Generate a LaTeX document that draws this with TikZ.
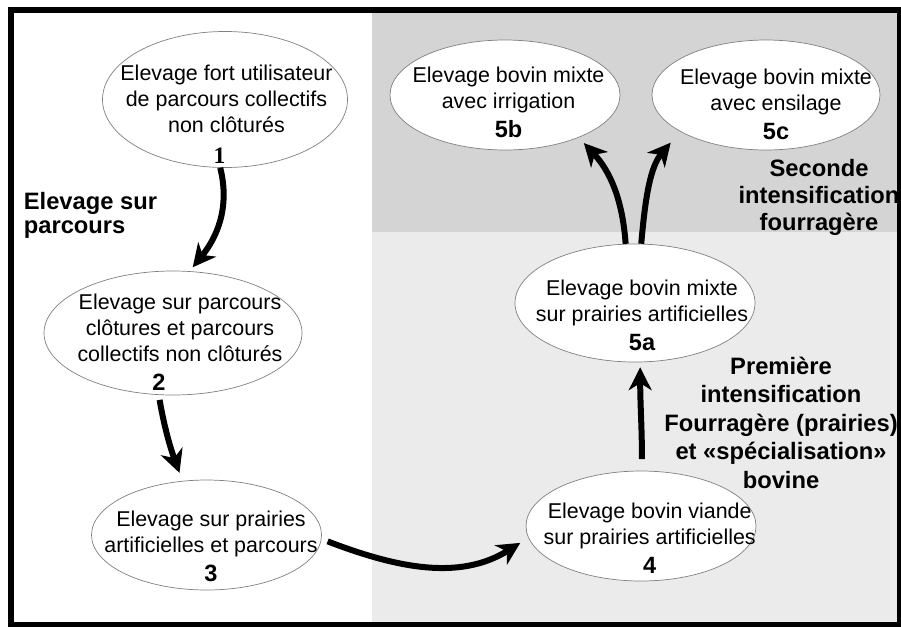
\documentclass[tikz,border=0pt]{standalone}
\usepackage{fontspec}
\setmainfont{Liberation Sans}
\newfontfamily\numserif{Liberation Serif}
\definecolor{greydark}{RGB}{212,212,212}
\definecolor{greylight}{RGB}{235,235,235}
\usetikzlibrary{shapes.geometric,arrows.meta}
\tikzset{
        stage/.style={draw=gray, line width=0.4pt, fill=white, ellipse, inner sep=0pt},
        stagetext/.style={anchor=north, align=center, inner sep=0pt, font=\fontsize{12.2pt}{14.8pt}\selectfont},
        phase/.style={inner sep=0pt, font=\fontsize{13.5pt}{16pt}\selectfont\bfseries},
        flow/.style={line width=0.12cm, -{Stealth[length=13pt,width=13pt,inset=4pt]}}
}
\newcommand{\stagenum}[1]{{\fontsize{13.4pt}{16pt}\selectfont\bfseries #1}}

\begin{document}
\begin{tikzpicture}
        
        \useasboundingbox (0,0) rectangle (18.02,-12.52);
        
        % zones
        \fill[greydark] (7.44,-0.2) rectangle (18.02,-4.64);
        \fill[greylight] (7.44,-4.64) rectangle (18.02,-12.52);
        
        % ellipses
        \node[stage, minimum width=4.9cm, minimum height=2.72cm] (e1) at (4.5,-1.99) {} ;
        \node[stage, minimum width=5.16cm, minimum height=2.48cm] (e2) at (3.46,-6.66) {} ;
        \node[stage, minimum width=4.6cm, minimum height=2.2cm] (e3) at (4.13,-10.7) {} ;
        \node[stage, minimum width=4.6cm, minimum height=2.2cm] (e4) at (12.82,-10.52) {} ;
        \node[stage, minimum width=4.8cm, minimum height=2.36cm] (e5a) at (12.7,-6.06) {} ;
        \node[stage, minimum width=4.6cm, minimum height=2.2cm] (e5b) at (10.1,-1.9) {} ;
        \node[stage, minimum width=4.56cm, minimum height=2.2cm] (e5c) at (15.32,-1.9) {} ;
        
        \node[stagetext] (t1) at (4.53,-1.3) {Elevage fort utilisateur\\de parcours collectifs\\non clôturés\\[2.7pt]{\numserif\bfseries\fontsize{13.4pt}{16pt}\selectfont 1}\kern0.28cm} ;
        \node[stagetext] (t2) at (3.6,-5.866) {Elevage sur parcours\\clôtures et parcours\\collectifs non clôturés\\[1.7pt]\stagenum{2}\kern0.84cm} ;
        \node[stagetext] (t3) at (4.22,-10.214) {Elevage sur prairies\\artificielles et parcours\\[1.7pt]\stagenum{3}} ;
        \node[stagetext] (t4) at (12.994,-10.06) {Elevage bovin viande\\sur prairies artificielles\\[1.7pt]\stagenum{4}} ;
        \node[stagetext] (t5a) at (12.84,-5.6) {Elevage bovin mixte\\sur prairies artificielles\\[1.7pt]\stagenum{5a}} ;
        \node[stagetext] (t5b) at (10.17,-1.334) {Elevage bovin mixte\\avec irrigation\\[1.7pt]\stagenum{5b}} ;
        \node[stagetext] (t5c) at (15.52,-1.366) {Elevage bovin mixte\\avec ensilage\\[1.7pt]\stagenum{5c}} ;
        
        % phases
        \node[phase, anchor=north west, align=left, font=\fontsize{13.5pt}{13.4pt}\selectfont\bfseries] (p1) at (0.47,-3.846) {Elevage sur\\parcours} ;
        \node[phase, anchor=north, align=center, font=\fontsize{13.5pt}{15.4pt}\selectfont\bfseries] (p2) at (16.38,-3.18) {Seconde\\intensification\\fourragère} ;
        \node[phase, anchor=north, align=center, font=\fontsize{13.5pt}{16.2pt}\selectfont\bfseries] (p3) at (15.62,-7.134) {Première\\intensification\\Fourragère (prairies)\\et «spécialisation»\\bovine} ;
        
        % arrows
        \draw[flow, shorten >=0.1cm] (e1.-94) to[out=-76, in=51] (e2.75) ;
        \draw[flow, shorten <=0.1cm, shorten >=0.17cm] (e2.-103) to[out=-80, in=110] (e3.114) ;
        \draw[flow, shorten <=0.13cm, shorten >=0.19cm] (e3.-2) to[out=-21, in=212] (e4.-174) ;
        \draw[flow, shorten <=0.23cm, shorten >=0.1cm] (e4.89) to[out=90, in=-90] (e5a.-85) ;
        \draw[flow, shorten >=0.15cm] (e5a.99) to[out=94, in=-47] (e5b.-30) ;
        \draw[flow, shorten >=0.29cm] (e5a.84) to[out=85, in=230] (e5c.-157) ;
        
        % frame
        \draw[line width=0.12cm] (0.22,-0.2) rectangle (18.0,-12.5) ;
        
\end{tikzpicture}
\end{document}
